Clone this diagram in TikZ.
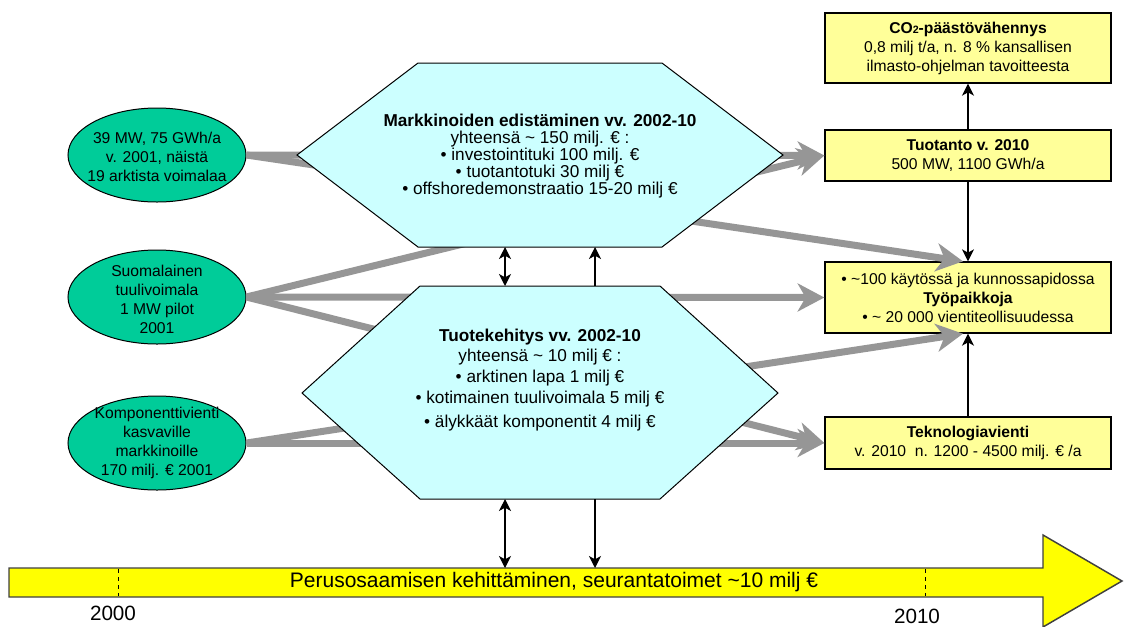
\documentclass[tikz,border=0pt]{standalone}
\usepackage{fontspec}
\setmainfont{Liberation Sans}
\usetikzlibrary{arrows.meta,shapes.geometric,calc}
\definecolor{ellfill}{HTML}{00CC99}
\definecolor{hexfill}{HTML}{CCFFFF}
\definecolor{boxfill}{HTML}{FFFF99}
\definecolor{garr}{HTML}{969696}
\definecolor{barfill}{HTML}{FFFF00}
\definecolor{barline}{HTML}{404040}
\tikzset{
  ell/.style={ellipse, draw=black, line width=0.75pt, fill=ellfill, minimum width=133.5pt, minimum height=70.5pt, inner sep=0pt},
  elltext/.style={align=center, inner sep=0pt, font=\fontsize{11.75pt}{14.25pt}\selectfont},
  resbox/.style={draw=black, line width=1pt, fill=boxfill, minimum width=214.5pt, inner sep=0pt, align=center, font=\fontsize{11.75pt}{14.25pt}\selectfont},
  hexshape/.style={draw=black, line width=0.75pt, fill=hexfill},
  hextext/.style={align=center, inner sep=0pt, font=\fontsize{12.9pt}{12.75pt}\selectfont},
  garrow/.style={draw=garr, line width=5.25pt, -{Stealth[length=20pt,width=21pt,inset=6pt]}},
  barrow/.style={draw=black, line width=0.9pt, -{Stealth[length=9pt,width=9pt,inset=2.5pt]}},
  bdarrow/.style={draw=black, line width=0.9pt, {Stealth[length=9pt,width=9pt,inset=2.5pt]}-{Stealth[length=9pt,width=9pt,inset=2.5pt]}},
  tick/.style={draw=black, line width=0.6pt, dashed},
  yearlbl/.style={inner sep=0pt, font=\fontsize{15.5pt}{18pt}\selectfont}
}
\begin{document}
\begin{tikzpicture}[x=0.75pt,y=-0.75pt]
\useasboundingbox (0,0) rectangle (1124,626);

% ellipses
\node[ell] (e1) at (157,155) {};
\node[elltext] (e1t) at (157,157) {39 MW, 75 GWh/a\\v. 2001, näistä\\19 arktista voimalaa};
\node[ell] (e2) at (157,297) {};
\node[elltext] (e2t) at (157,299) {Suomalainen\\tuulivoimala\\1 MW pilot\\2001};
\node[ell] (e3) at (157,443) {};
\node[elltext] (e3t) at (157,443) {Komponenttivienti\\kasvaville\\markkinoille\\170 milj. € 2001};

% result boxes
\node[resbox, minimum height=52.5pt] (co) at (968,48) {\textbf{CO{\fontsize{8pt}{8pt}\selectfont 2}-päästövähennys}\\0,8 milj t/a, n. 8 \% kansallisen\\ilmasto-ohjelman tavoitteesta};
\node[resbox, minimum height=38.25pt] (tu) at (968,155.5) {\textbf{Tuotanto v. 2010}\\500 MW, 1100 GWh/a};
\node[resbox, minimum height=53.25pt] (tp) at (968,297.5) {• \textasciitilde100 käytössä ja kunnossapidossa\\\textbf{Työpaikkoja}\\• \textasciitilde{} 20 000 vientiteollisuudessa};
\node[resbox, minimum height=39pt] (tk) at (968,443) {\textbf{Teknologiavienti}\\v. 2010\ \ n. 1200 - 4500 milj. € /a};

% grey arrows (behind hexagons)
\draw[garrow] (e1.east) -- (tu.west);
\draw[garrow] (e1.east) -- ($(tp.north)+(-5,0)$);
\draw[garrow] (e2.east) -- (tu.west);
\draw[garrow] (e2.east) -- (tp.west);
\draw[garrow] (e2.east) -- (tk.west);
\draw[garrow] (e3.east) -- ($(tp.south)+(-5,0)$);
\draw[garrow] (e3.east) -- (tk.west);

% upper hexagon
\draw[hexshape] (297,155) -- (418,63) -- (662,63) -- (783,155) -- (662,247) -- (418,247) -- cycle;
\node[hextext] (mk) at (540,156) {\textbf{Markkinoiden edistäminen vv. 2002-10}\\yhteensä \textasciitilde{} 150 milj. € :\\• investointituki 100 milj. €\\• tuotantotuki 30 milj €\\• offshoredemonstraatio 15-20 milj €};
% lower hexagon
\draw[hexshape] (302,393) -- (420,286) -- (660,286) -- (778,393) -- (660,499) -- (420,499) -- cycle;
\node[hextext, font=\fontsize{12.9pt}{15.5pt}\selectfont] (tkh) at (540,380) {\textbf{Tuotekehitys vv. 2002-10}\\yhteensä \textasciitilde{} 10 milj € :\\• arktinen lapa 1 milj €\\• kotimainen tuulivoimala 5 milj €\\[3pt]• älykkäät komponentit 4 milj €};

% hexagon edge points
\coordinate (h1a) at (505,247);
\coordinate (h1b) at (595,247);
\coordinate (h2ta) at (505,286);
\coordinate (h2tb) at (595,286);
\coordinate (h2ba) at (505,499);
\coordinate (h2bb) at (595,499);
\coordinate (bara) at (505,568);
\coordinate (barb) at (595,568);

% timeline arrow
\draw[fill=barfill, draw=barline, line width=1.1pt] (9,568) -- (1043,568) -- (1043,535) -- (1122,581) -- (1043,627) -- (1043,597) -- (9,597) -- cycle;
\node[inner sep=0pt, font=\fontsize{15.75pt}{18pt}\selectfont] (bar) at (554,582) {Perusosaamisen kehittäminen, seurantatoimet \textasciitilde10 milj €};
\draw[tick] (118,569) -- (118,596);
\draw[tick] (925,569) -- (925,596);
\node[yearlbl] (y1) at (113,613) {2000};
\node[yearlbl] (y2) at (917,616) {2010};

% black arrows
\draw[bdarrow] (h1a) -- (h2ta);
\draw[barrow] (h2tb) -- (h1b);
\draw[bdarrow] (h2ba) -- (bara);
\draw[barrow] (h2bb) -- (barb);
\draw[barrow] (tu.north) -- (co.south);
\draw[barrow] (tu.south) -- (tp.north);
\draw[barrow] (tk.north) -- (tp.south);
\end{tikzpicture}
\end{document}
